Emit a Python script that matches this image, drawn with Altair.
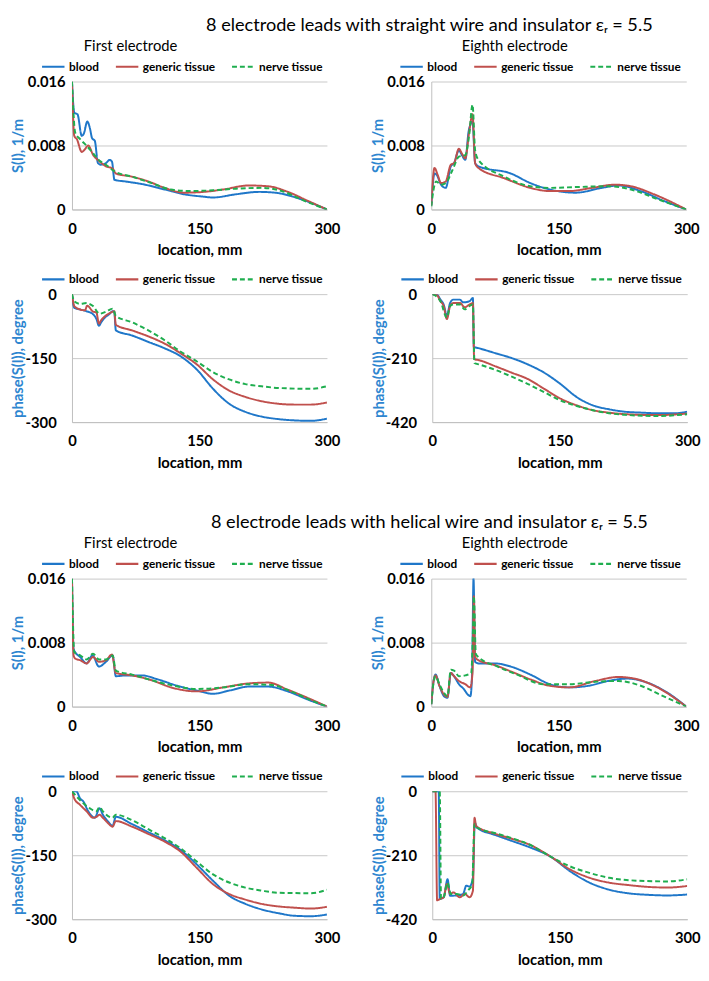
import altair as alt
import pandas as pd

SERIES = ["blood", "generic tissue", "nerve tissue"]
COLORS = ["#1f77c9", "#c0504d", "#1fae4f"]
DASHES = [[1, 0], [1, 0], [5, 3]]

X_TICKS = [0, 150, 300]
MAG_TICKS = [0, 0.008, 0.016]
PH_TICKS_300 = [-300, -150, 0]
PH_TICKS_420 = [-420, -210, 0]

SECTION_TITLES = [
    "8 electrode leads with straight wire and insulator \u03b5\u1d63 = 5.5",
    "8 electrode leads with helical wire and insulator \u03b5\u1d63 = 5.5",
]
PANEL_TITLES = ["First electrode", "Eighth electrode"]

# ---------- straight wire, first electrode, S(l) ----------
a_blood_x = [0, 2.7, 6.5, 11.5, 14, 18, 21, 23.7, 26.8, 30.6, 34, 40, 44.5, 47, 50, 63, 86, 109, 132, 155, 166, 193, 220, 239, 269, 300]
a_blood_y = [0.016, 0.0121, 0.0119, 0.0092, 0.0095, 0.0110, 0.0102, 0.0089, 0.0086, 0.0058, 0.0056, 0.0058, 0.0062, 0.0060, 0.0037, 0.0035, 0.0031, 0.0025, 0.0019, 0.0016, 0.0015, 0.0019, 0.0022, 0.0021, 0.0013, 0]
a_gen_x = [0, 2.7, 5.7, 11.5, 15, 19, 25, 32.5, 40, 48, 51.6, 70.7, 89.8, 109, 132, 155, 178, 208, 231, 254, 277, 300]
a_gen_y = [0.016, 0.0092, 0.0088, 0.0072, 0.0075, 0.0080, 0.0068, 0.0060, 0.0054, 0.0051, 0.0045, 0.0041, 0.0035, 0.0027, 0.0021, 0.0022, 0.0025, 0.0030, 0.0029, 0.0022, 0.0011, 0]
a_nerve_x = [0, 3.8, 9.6, 17, 25, 32.5, 40, 49.7, 70.7, 93.6, 116, 139, 166, 193, 224, 247, 273, 300]
a_nerve_y = [0.016, 0.0096, 0.0088, 0.0080, 0.0070, 0.0061, 0.0056, 0.0048, 0.0041, 0.0033, 0.0025, 0.0023, 0.0024, 0.0026, 0.0027, 0.0023, 0.0011, 0]

# ---------- straight wire, eighth electrode, S(l) ----------
b_blood_x = [0, 3.8, 6.5, 11.5, 17, 23, 26.8, 32.5, 36, 40, 44, 48.5, 51.6, 55.4, 93.6, 116.6, 139.5, 170, 200.6, 220, 246.5, 273, 300]
b_blood_y = [0.0005, 0.0045, 0.0043, 0.0031, 0.0027, 0.0054, 0.0058, 0.0074, 0.0068, 0.0062, 0.0098, 0.0110, 0.0058, 0.0054, 0.0045, 0.0033, 0.0025, 0.0021, 0.0027, 0.0030, 0.0023, 0.0011, 0]
b_gen_x = [0, 3.8, 7.6, 11.5, 17, 23, 26.8, 32.5, 36, 40, 44.7, 48.5, 51.6, 55.4, 86, 116.6, 139.5, 162, 189, 216, 235, 262, 300]
b_gen_y = [0.0005, 0.0052, 0.0043, 0.0033, 0.0035, 0.0056, 0.0058, 0.0076, 0.0070, 0.0064, 0.0098, 0.0119, 0.0058, 0.0052, 0.0039, 0.0027, 0.0023, 0.0023, 0.0027, 0.0031, 0.0029, 0.0019, 0]
b_nerve_x = [0, 2.7, 5.7, 11.5, 17, 24.8, 32.5, 40, 44.7, 48.5, 51.6, 55.4, 86, 116.6, 139.5, 170, 208, 235, 266, 300]
b_nerve_y = [0.0004, 0.0025, 0.0035, 0.0031, 0.0033, 0.0049, 0.0066, 0.0068, 0.0094, 0.0131, 0.0074, 0.0062, 0.0041, 0.0029, 0.0027, 0.0028, 0.0029, 0.0025, 0.0013, 0]

# ---------- straight wire, first electrode, phase ----------
c_blood_x = [0, 2.7, 9.6, 17, 24.8, 28.7, 31.7, 34.4, 38.2, 43.9, 47.8, 49.7, 51.6, 70.7, 89.8, 109, 128, 147, 166, 185, 204, 223, 243, 262, 281, 300]
c_blood_y = [0, -32, -36, -40, -47, -58, -74, -66, -56, -47, -40, -41, -85, -97, -112, -127, -146, -177, -222, -257, -276, -287, -293, -296, -297, -292]
c_gen_x = [0, 2.7, 9.6, 15.3, 17.9, 24.8, 28.7, 31.7, 34.4, 38.2, 45.9, 49.7, 51.6, 70.7, 89.8, 109, 128, 147, 166, 185, 204, 223, 243, 262, 281, 300]
c_gen_y = [0, -28, -36, -38, -27, -41, -43, -69, -61, -53, -43, -40, -72, -85, -99, -116, -139, -165, -200, -226, -241, -251, -257, -259, -259, -254]
c_nerve_x = [0, 2.7, 9.6, 17, 24.8, 32.5, 40, 47.8, 51.6, 70.7, 89.8, 109, 128, 147, 166, 185, 204, 223, 243, 281, 300]
c_nerve_y = [0, -17, -23, -21, -28, -46, -41, -34, -51, -66, -85, -108, -135, -158, -183, -200, -211, -216, -220, -222, -216]

# ---------- straight wire, eighth electrode, phase ----------
d_blood_x = [0, 5.7, 9.6, 13.4, 17.2, 21, 24.8, 32.5, 36.3, 43.9, 47.8, 48.9, 55.4, 74.5, 93.6, 112.7, 131.8, 150.9, 170, 189, 208, 227, 246.5, 265.6, 284.7, 300]
d_blood_y = [0, -2, -18, -34, -71, -29, -18, -18, -27, -23, -13, -173, -178, -194, -210, -231, -258, -295, -338, -365, -378, -386, -389, -391, -391, -386]
d_gen_x = [0, 5.7, 9.6, 13.4, 17.2, 21, 24.8, 32.5, 38.2, 43.9, 47.8, 49.3, 55.4, 74.5, 93.6, 112.7, 131.8, 150.9, 170, 189, 208, 227, 265.6, 300]
d_gen_y = [0, -4, -23, -39, -82, -39, -29, -29, -43, -34, -29, -213, -217, -237, -258, -279, -311, -343, -365, -381, -389, -394, -397, -392]
d_nerve_x = [0, 9.6, 17.2, 21, 24.8, 32.5, 38.2, 43.9, 47.8, 49.7, 55.4, 74.5, 93.6, 112.7, 131.8, 150.9, 170, 189, 208, 227, 265.6, 300]
d_nerve_y = [0, -23, -77, -39, -34, -34, -50, -39, -34, -226, -231, -249, -271, -295, -322, -349, -367, -381, -391, -396, -400, -394]

# ---------- helical wire, first electrode, S(l) ----------
e_blood_x = [0, 1.9, 3.8, 9.6, 17.2, 24, 31.7, 40, 47.8, 51.6, 63, 82, 101, 124, 147, 166, 185, 208, 231, 254, 277, 300]
e_blood_y = [0.016, 0.0072, 0.0068, 0.0062, 0.0054, 0.0064, 0.0050, 0.0056, 0.0064, 0.0038, 0.0039, 0.0039, 0.0034, 0.0026, 0.0020, 0.0016, 0.0020, 0.0025, 0.0025, 0.0019, 0.0009, 0]
e_gen_x = [0, 1.9, 3.8, 9.6, 17.2, 24.8, 31.7, 40, 47, 51.6, 70.7, 93.6, 116.6, 147, 178, 208, 231, 254, 277, 300]
e_gen_y = [0.016, 0.0064, 0.0060, 0.0058, 0.0054, 0.0062, 0.0056, 0.0058, 0.0065, 0.0042, 0.0039, 0.0033, 0.0024, 0.0019, 0.0024, 0.0029, 0.0030, 0.0021, 0.0011, 0]
e_nerve_x = [0, 2.7, 9.6, 17.2, 24.8, 31.7, 40, 47.8, 51.6, 70.7, 93.6, 120, 147, 178, 208, 235, 258, 281, 300]
e_nerve_y = [0.016, 0.0068, 0.0064, 0.0059, 0.0066, 0.0059, 0.0059, 0.0064, 0.0045, 0.0040, 0.0033, 0.0026, 0.0022, 0.0024, 0.0028, 0.0027, 0.0019, 0.0008, 0]

# ---------- helical wire, eighth electrode, S(l) ----------
f_blood_x = [0, 2.7, 5, 9.6, 15, 19, 23, 26.8, 32.5, 38.2, 43, 46, 48, 49.7, 51.6, 55.4, 74.5, 93.6, 116.6, 139.5, 162, 185, 208, 231, 254, 277, 300]
f_blood_y = [0.0003, 0.0032, 0.0040, 0.0026, 0.0013, 0.0011, 0.0042, 0.0038, 0.0028, 0.0022, 0.0015, 0.0013, 0.0040, 0.0160, 0.0056, 0.0054, 0.0054, 0.0050, 0.0040, 0.0028, 0.0024, 0.0026, 0.0032, 0.0035, 0.0030, 0.0018, 0]
f_gen_x = [0, 2.7, 5, 9.6, 15, 19, 23, 26.8, 32.5, 40, 45.9, 48.5, 50.1, 51.6, 55.4, 74.5, 93.6, 116.6, 139.5, 162, 193, 220, 239, 266, 300]
f_gen_y = [0.0003, 0.0032, 0.0039, 0.0026, 0.0015, 0.0012, 0.0042, 0.0038, 0.0032, 0.0028, 0.0024, 0.0042, 0.0138, 0.0062, 0.0058, 0.0052, 0.0044, 0.0034, 0.0026, 0.0024, 0.0032, 0.0037, 0.0035, 0.0024, 0]
f_nerve_x = [0, 2.7, 5, 9.6, 15, 19, 23, 26.8, 32.5, 40, 47, 49.3, 50.1, 52.4, 55.4, 78, 101, 131.8, 162, 193, 220, 246.5, 269, 300]
f_nerve_y = [0.0003, 0.0030, 0.0038, 0.0028, 0.0017, 0.0013, 0.0046, 0.0045, 0.0038, 0.0039, 0.0042, 0.0105, 0.0138, 0.0066, 0.0062, 0.0050, 0.0040, 0.0028, 0.0028, 0.0031, 0.0032, 0.0026, 0.0015, 0]

# ---------- helical wire, first electrode, phase ----------
g_blood_x = [0, 5, 9.6, 13.4, 19.1, 26.8, 32.5, 36.3, 42, 47.8, 51.6, 70.7, 89.8, 109, 128, 147, 166, 185, 204, 223, 243, 262, 281, 300]
g_blood_y = [0, 0, -17, -24, -47, -62, -40, -55, -70, -81, -60, -77, -96, -115, -138, -172, -210, -245, -264, -277, -286, -292, -293, -289]
g_gen_x = [0, 2.7, 9.6, 17.2, 24.8, 28.7, 32.5, 36.3, 42, 47.8, 51.6, 70.7, 89.8, 109, 128, 147, 166, 185, 204, 223, 243, 262, 281, 300]
g_gen_y = [0, -17, -32, -47, -62, -60, -55, -62, -74, -83, -70, -83, -100, -118, -142, -180, -218, -241, -254, -264, -270, -273, -275, -271]
g_nerve_x = [0, 9.6, 21, 28.7, 32.5, 36.3, 47.8, 51.6, 70.7, 89.8, 109, 128, 147, 166, 185, 204, 223, 243, 281, 300]
g_nerve_y = [0, -21, -40, -47, -37, -47, -62, -55, -68, -89, -110, -134, -165, -195, -214, -226, -233, -238, -239, -231]

# ---------- helical wire, eighth electrode, phase ----------
h_blood_x = [0, 7.6, 8.8, 13.4, 18, 21, 28.7, 36.3, 40, 43.9, 47.8, 50.1, 52.4, 74.5, 93.6, 116.6, 139.5, 162.4, 185, 208, 231, 254, 277, 300]
h_blood_y = [0, 0, -353, -348, -289, -343, -342, -337, -310, -313, -284, -103, -119, -144, -163, -186, -215, -263, -300, -323, -335, -340, -342, -339]
h_gen_x = [0, 3.8, 5.7, 9.6, 13.4, 17.2, 21, 24.8, 32.5, 38.2, 43.9, 47.8, 49.7, 51.6, 74.5, 93.6, 116.6, 139.5, 162.4, 185, 208, 231, 254, 277, 300]
h_gen_y = [0, 0, -358, -353, -348, -305, -337, -332, -348, -337, -348, -327, -87, -114, -140, -156, -178, -215, -257, -284, -300, -308, -314, -316, -311]
h_nerve_x = [0, 8.8, 10.3, 13.4, 18, 21.8, 28.7, 36.3, 42, 47, 49.7, 52.4, 74.5, 93.6, 116.6, 139.5, 162.4, 185, 208, 231, 277, 300]
h_nerve_y = [0, 0, -353, -348, -300, -337, -337, -342, -326, -305, -108, -119, -138, -154, -178, -215, -247, -268, -284, -292, -296, -289]

FONT = "Lato"
PLOT_W = 259
PLOT_H = 130


def frame(bx, by, gx, gy, nx, ny):
    rows = []
    for name, xs, ys in ((SERIES[0], bx, by), (SERIES[1], gx, gy), (SERIES[2], nx, ny)):
        for xv, yv in zip(xs, ys):
            rows.append({"series": name, "x": xv, "y": yv})
    return pd.DataFrame(rows)


def panel(df, ytitle, ydomain, yticks, label_pad, legend_x, title=None, title_dx=0):
    legend = alt.Legend(
        title=None, orient="none", legendX=legend_x, legendY=-28, direction="horizontal",
        symbolType="stroke", symbolStrokeWidth=2.2, symbolSize=520,
        labelFont=FONT, labelFontSize=12, labelFontWeight="bold", labelColor="#000000",
        columnPadding=12, labelOffset=3, padding=0,
    )
    chart = alt.Chart(df).mark_line(interpolate="monotone", strokeWidth=2, clip=True).encode(
        x=alt.X("x:Q", scale=alt.Scale(domain=[0, 300], nice=False, zero=False),
                axis=alt.Axis(values=X_TICKS, title="location, mm", grid=False, labelFlush=False)),
        y=alt.Y("y:Q", scale=alt.Scale(domain=ydomain, nice=False, zero=False),
                axis=alt.Axis(values=yticks, title=ytitle, labelExpr="'' + datum.value",
                              labelPadding=label_pad, minExtent=45, maxExtent=45)),
        color=alt.Color("series:N", scale=alt.Scale(domain=SERIES, range=COLORS), legend=legend),
        strokeDash=alt.StrokeDash("series:N", scale=alt.Scale(domain=SERIES, range=DASHES), legend=legend),
    ).properties(width=PLOT_W, height=PLOT_H)
    if title:
        chart = chart.properties(title=alt.TitleParams(
            title, anchor="start", frame="group", dx=title_dx, offset=0,
            font=FONT, fontSize=15, fontWeight="normal", color="#000000"))
    return chart


def indep(c):
    return c.resolve_scale(color="independent", strokeDash="independent").resolve_legend(
        color="independent", strokeDash="independent")


def row(left, right):
    return indep(alt.hconcat(left, right, spacing=30))


MAG_T = "S(l), 1/m"
PH_T = "phase(S(l)), degree"

pa = panel(frame(a_blood_x, a_blood_y, a_gen_x, a_gen_y, a_nerve_x, a_nerve_y), MAG_T, [0, 0.016], MAG_TICKS, 7, -32, PANEL_TITLES[0], 12)
pb = panel(frame(b_blood_x, b_blood_y, b_gen_x, b_gen_y, b_nerve_x, b_nerve_y), MAG_T, [0, 0.016], MAG_TICKS, 7, -33, PANEL_TITLES[1], 31)
pc = panel(frame(c_blood_x, c_blood_y, c_gen_x, c_gen_y, c_nerve_x, c_nerve_y), PH_T, [-300, 0], PH_TICKS_300, 16, -32)
pd_ = panel(frame(d_blood_x, d_blood_y, d_gen_x, d_gen_y, d_nerve_x, d_nerve_y), PH_T, [-420, 0], PH_TICKS_420, 16, -33)
pe = panel(frame(e_blood_x, e_blood_y, e_gen_x, e_gen_y, e_nerve_x, e_nerve_y), MAG_T, [0, 0.016], MAG_TICKS, 7, -32, PANEL_TITLES[0], 12)
pf = panel(frame(f_blood_x, f_blood_y, f_gen_x, f_gen_y, f_nerve_x, f_nerve_y), MAG_T, [0, 0.016], MAG_TICKS, 7, -33, PANEL_TITLES[1], 31)
pg = panel(frame(g_blood_x, g_blood_y, g_gen_x, g_gen_y, g_nerve_x, g_nerve_y), PH_T, [-300, 0], PH_TICKS_300, 16, -32)
ph = panel(frame(h_blood_x, h_blood_y, h_gen_x, h_gen_y, h_nerve_x, h_nerve_y), PH_T, [-420, 0], PH_TICKS_420, 16, -33)


def section(top, bottom, title):
    return indep(alt.vconcat(top, bottom, spacing=9, title=alt.TitleParams(
        title, anchor="middle", frame="bounds", dx=75, offset=5,
        font=FONT, fontSize=18.4, fontWeight="normal", color="#000000")))


s1 = section(row(pa, pb), row(pc, pd_), SECTION_TITLES[0])
s2 = section(row(pe, pf), row(pg, ph), SECTION_TITLES[1])

chart = indep(alt.vconcat(s1, s2, spacing=43)).properties(
    padding={"left": 2, "top": 0, "right": 0, "bottom": 0}
).configure_view(stroke=None).configure_axis(
    labelFont=FONT, labelFontSize=15, labelFontWeight="bold", labelColor="#000000",
    titleFont=FONT, titleFontSize=15, titleFontWeight="bold",
    domainColor="#bfbfbf", gridColor="#c8c8c8", ticks=False,
).configure_axisX(
    labelPadding=12, titlePadding=7, titleColor="#000000",
).configure_axisY(
    titlePadding=2, titleColor="#2e86d0",
)

chart.save("out.html", embed_options={"renderer": "svg", "actions": False})
